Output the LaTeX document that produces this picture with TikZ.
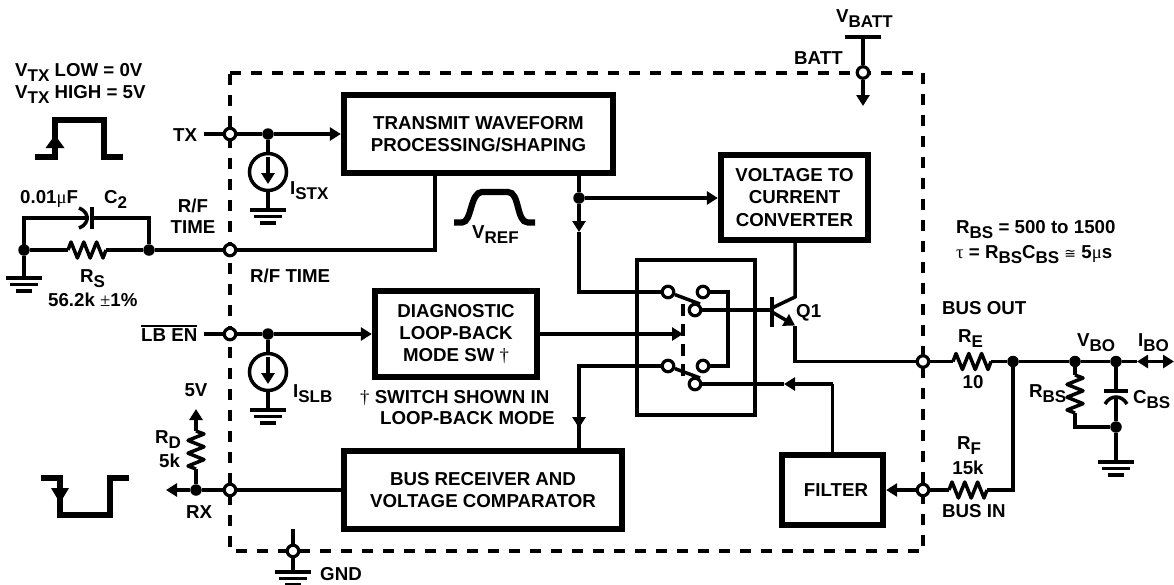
\documentclass[tikz,border=0pt]{standalone}
\usepackage{fontspec}
\setmainfont{Liberation Sans}
\newfontfamily\grk{Liberation Serif}
\newfontfamily\djv{DejaVu Sans}
\usetikzlibrary{arrows.meta}
\newcommand\sbs[1]{\raisebox{-5pt}{\fontsize{17}{17}\selectfont #1}}
\newcommand\thin[1]{{\grk\mdseries #1}}
\newcommand\ovl[1]{\leavevmode\vbox{\hrule height 1.4pt \kern 1.6pt\hbox{#1}}}
\tikzset{
  every node/.style={font=\fontsize{18.7}{22.3}\selectfont\bfseries,inner sep=0pt,text=black},
  sig/.style={line width=3.5pt,draw=black},
  arr/.style={sig,-{Triangle[length=11pt,width=13pt]}},
  boxn/.style={draw=black,line width=6.3pt,align=center,fill=white},
  term/.style={circle,draw=black,fill=white,line width=3.2pt,minimum size=11.5pt},
  dot/.style={circle,fill=black,minimum size=11.5pt},
  isrc/.style={circle,draw=black,line width=3.5pt,minimum size=37pt},
  lbl/.style={anchor=base west},
  lblc/.style={anchor=base},
  wave/.style={line width=6.3pt,draw=black,miter limit=10},
  gnd/.pic={\draw[sig] (-18,0) -- (18,0);\draw[sig] (-14,6.7) -- (14,6.7);\draw[sig] (-8,13) -- (8,13);},
  zig/.pic={\draw[sig,line join=round] (0,0) -- ++(3,-8) -- ++(6.4,16) -- ++(6.4,-16) -- ++(6.4,16) -- ++(6.4,-16) -- ++(6.4,16) -- ++(3,-8);}
}
\begin{document}
\begin{tikzpicture}[x=1pt,y=-1pt]
\useasboundingbox (0,0) rectangle (1174,584);
\fill[white] (0,0) rectangle (1174,584);

% dashed chip outline
\draw[line width=4pt,dash pattern=on 11pt off 10pt] (230,72.5) -- (923,72.5) -- (923,551) -- (230,551) -- cycle;

% switch frame
\node[draw=black,line width=3.7pt,minimum width=118pt,minimum height=155pt] (swbox) at (696,337.5) {};

% function blocks
\node[boxn,minimum width=269pt,minimum height=78pt] (txbox) at (478.5,134) {TRANSMIT WAVEFORM\\PROCESSING/SHAPING};
\node[boxn,minimum width=162pt,minimum height=86pt] (diag) at (456,334) {DIAGNOSTIC\\LOOP-BACK\\MODE SW \thin{†}};
\node[boxn,minimum width=278pt,minimum height=78pt] (busrx) at (483,490) {BUS RECEIVER AND\\VOLTAGE COMPARATOR};
\node[boxn,minimum width=101pt,minimum height=70pt] (filt) at (832.5,490) {\hspace*{7pt}FILTER};
\node[boxn,minimum width=147pt,minimum height=85pt] (vi) at (794.5,197.5) {VOLTAGE TO\\CURRENT\\CONVERTER};

% nodes
\node[term] (ttx) at (230,134) {};
\node[term] (trf) at (230,250) {};
\node[term] (tlb) at (230,334) {};
\node[term] (trx) at (230,490) {};
\node[term] (tgnd) at (293,551) {};
\node[term] (tbatt) at (863,72.5) {};
\node[term] (tout) at (923,361.5) {};
\node[term] (tin) at (923,490) {};
\node[dot] (dtx) at (268,134) {};
\node[dot] (dlb) at (268,334) {};
\node[dot] (dl) at (24,250) {};
\node[dot] (dr) at (149,250) {};
\node[dot] (drx) at (196,490) {};
\node[dot] (dsp) at (579,198) {};
\node[dot] (dre) at (1013,361.5) {};
\node[dot] (dvb) at (1075,361.5) {};
\node[dot] (dcb) at (1116,361.5) {};
\node[dot] (dcg) at (1116,427) {};
\node[isrc] (istx) at (268,172) {};
\node[isrc] (islb) at (268,372) {};

% switch contacts
\node[term] (s1a) at (668,292) {};
\node[term] (s1b) at (703,292) {};
\node[term] (s1c) at (695,310) {};
\node[term] (s2a) at (668,366) {};
\node[term] (s2b) at (703,366) {};
\node[term] (s2c) at (695,384) {};

% free ends and bends
\coordinate (txs) at (204,134);
\coordinate (lbs) at (204,334);
\coordinate (rxe) at (166,490);
\coordinate (g1) at (268,210);
\coordinate (g2) at (268,410);
\coordinate (g3) at (24,278);
\coordinate (g4) at (293,572);
\coordinate (g5) at (1116,462);
\coordinate (rfb) at (435,250);
\coordinate (a1) at (579,232);
\coordinate (b1) at (579,292);
\coordinate (a2) at (579,428);
\coordinate (b2) at (579,366);
\coordinate (sw1) at (728,292);
\coordinate (sw2) at (728,366);
\coordinate (arm1) at (700,304);
\coordinate (arm2) at (700,378);
\coordinate (lk1) at (683,304);
\coordinate (lk2) at (683,381);
\coordinate (dgt) at (683,334);
\coordinate (base) at (772,310);
\coordinate (bt) at (772,297);
\coordinate (bb) at (772,327);
\coordinate (col0) at (772,308);
\coordinate (col) at (795,297);
\coordinate (em0) at (772,312);
\coordinate (em) at (795,325.5);
\coordinate (em1) at (795,361.5);
\coordinate (fa) at (784,384);
\coordinate (fb) at (832.5,384);
\coordinate (rsa) at (68,250);
\coordinate (rsb) at (106,250);
\coordinate (rea) at (953,361.5);
\coordinate (reb) at (991,361.5);
\coordinate (rfa) at (949,490);
\coordinate (rfe) at (987,490);
\coordinate (rf2) at (1013,490);
\coordinate (rda) at (196,431);
\coordinate (rdb) at (196,469);
\coordinate (rd5) at (196,409);
\coordinate (rba) at (1075,375);
\coordinate (rbb) at (1075,413);
\coordinate (rb2) at (1075,427);
\coordinate (bita) at (1137,361.5);
\coordinate (bitb) at (1174,361.5);
\coordinate (vb) at (863,37);
\coordinate (vbl) at (845,37);
\coordinate (vbr) at (881,37);
\coordinate (vbd) at (863,106);
\coordinate (gt) at (293,529);
\coordinate (c2l) at (24,218);
\coordinate (c2r) at (149,218);
\coordinate (c2p) at (87,218);
\coordinate (c2q) at (92,218);
\coordinate (cbp) at (1116,391);
\coordinate (cbq) at (1116,397);

% transmit side
\draw[sig] (txs) -- (ttx); \draw[sig] (ttx) -- (dtx);
\draw[arr] (dtx) -- (txbox.west);
\draw[sig] (dtx) -- (istx);
\draw[sig] (istx) -- (g1);
\draw[arr] (268,157) -- (268,184);
\pic at (g1) {gnd};

\draw[sig] (dl) -- (rsa);
\pic at (rsa) {zig};
\draw[sig] (rsb) -- (dr);
\draw[sig] (dr) -- (trf);
\draw[sig] (trf) -- (rfb) -- (rfb |- txbox.south);
\draw[sig] (dl) -- (g3);
\pic at (g3) {gnd};
\draw[sig,line cap=rect] (dl) -- (c2l) -- (c2p);
\draw[sig] (dr) -- (c2r) -- (c2q);
\draw[sig] (92,207) -- (92,229);
\draw[sig] (79,208) .. controls (86,211) and (87,215) .. (87,218) .. controls (87,221) and (86,225) .. (79,228);

% loop-back input
\draw[sig] (lbs) -- (tlb); \draw[sig] (tlb) -- (dlb);
\draw[arr] (dlb) -- (diag.west);
\draw[sig] (dlb) -- (islb);
\draw[sig] (islb) -- (g2);
\draw[arr] (268,357) -- (268,384);
\pic at (g2) {gnd};
\draw[arr] (diag.east) -- (dgt);

% receive side
\draw[sig] (busrx.west) -- (trx);
\draw[sig] (trx) -- (drx);
\draw[arr] (drx) -- (rxe);
\draw[sig] (drx) -- (rdb);
\pic[rotate=-90] at (rda) {zig};
\draw[arr] (rda) -- (rd5);

% ground and battery pins
\draw[sig] (gt) -- (tgnd); \draw[sig] (tgnd) -- (g4);
\pic at (g4) {gnd};
\draw[sig] (vbl) -- (vbr);
\draw[sig] (vb) -- (tbatt);
\draw[arr] (tbatt) -- (vbd);

% transmit block to switch and converter
\draw[sig] (txbox.south -| dsp) -- (dsp);
\draw[arr] (dsp) -- (vi.west |- dsp);
\draw[arr] (dsp) -- (a1);
\draw[sig] (a1) -- (b1) -- (s1a);
\draw[sig] (s1b) -- (sw1) -- (sw2) -- (s2b);
\draw[sig] (s1a) -- (arm1);
\draw[sig] (s2a) -- (arm2);
\draw[line width=4pt,dash pattern=on 12pt off 8pt] (lk1) -- (lk2);
\draw[sig] (s2a) -- (b2) -- (a2);
\draw[arr] (b2) -- (a2);
\draw[sig] (a2) -- (a2 |- busrx.north);

% transistor Q1
\draw[sig] (s1c) -- (base);
\draw[sig] (bt) -- (bb);
\draw[sig] (vi.south -| col) -- (col) -- (col0);
\draw[arr] (em0) -- (em);
\draw[sig] (em) -- (em1) -- (tout);

% filter path
\draw[sig] (filt.north) -- (fb);
\draw[arr] (fb) -- (fa);
\draw[sig] (fa) -- (s2c);
\draw[arr] (tin) -- (filt.east);

% output network
\draw[sig] (tout) -- (rea);
\pic at (rea) {zig};
\draw[sig] (reb) -- (dre);
\draw[sig] (dre) -- (dvb);
\draw[sig] (dvb) -- (dcb);
\draw[sig] (dcb) -- (bita);
\draw[sig,{Triangle[length=11pt,width=13pt]}-{Triangle[length=11pt,width=13pt]}] (bita) -- (bitb);
\draw[sig] (tin) -- (rfa);
\pic at (rfa) {zig};
\draw[sig] (rfe) -- (rf2) -- (dre);
\draw[sig] (dvb) -- (rba);
\pic[rotate=-90] at (rba) {zig};
\draw[sig] (rbb) -- (rb2) -- (dcg);
\draw[sig] (dcb) -- (cbp);
\draw[sig] (1104,391) -- (1128,391);
\draw[sig] (1105,404) .. controls (1108,399) and (1112,397) .. (1116,397) .. controls (1120,397) and (1124,399) .. (1127,404);
\draw[sig] (cbq) -- (dcg);
\draw[sig] (dcg) -- (g5);
\pic at (g5) {gnd};

% waveforms
\draw[wave] (35,157) -- (55,157) -- (55,120) -- (104,120) -- (104,157) -- (123,157);
\fill (55,135) -- (64.5,148) -- (45.5,148) -- cycle;
\draw[wave] (41,478) -- (60,478) -- (60,515) -- (110,515) -- (110,478) -- (129,478);
\fill (60,503) -- (69,488) -- (51,488) -- cycle;
\draw[wave] (454,222.5) -- (462,222.5) .. controls (472,222.5) and (470,192) .. (482,192) -- (508,192) .. controls (520,192) and (516,222.5) .. (528,222.5) -- (535,222.5);

% labels
\node[lbl] (l1) at (15,76) {V\sbs{TX} LOW = 0V};
\node[lbl] (l2) at (15,98) {V\sbs{TX} HIGH = 5V};
\node[lbl] (l3) at (173,141) {TX};
\node[lbl] (l4) at (290,194) {I\sbs{STX}};
\node[lbl] (l5) at (20,203) {0.01\thin{μ}F};
\node[lbl] (l6) at (104,203) {C\sbs{2}};
\node[lblc] (l7) at (193,212) {R/F};
\node[lblc] (l8) at (193,233) {TIME};
\node[lbl] (l9) at (250,282) {R/F TIME};
\node[lbl] (l10) at (80,282) {R\sbs{S}};
\node[lbl] (l11) at (48,306) {56.2k \thin{±}1\%};
\node[lbl] (l12) at (141,341) {\ovl{LB EN}};
\node[lbl] (l13) at (293,397) {I\sbs{SLB}};
\node[lblc] (l14) at (196,396) {5V};
\node[lbl] (l15) at (155,443) {R\sbs{D}};
\node[lbl] (l16) at (159,467) {5k};
\node[lbl] (l17) at (186,518) {RX};
\node[lbl] (l18) at (320,580) {GND};
\node[lbl] (l19) at (836,22) {V\sbs{BATT}};
\node[lbl] (l20) at (794,64) {BATT};
\node[lbl] (l21) at (472,238) {V\sbs{REF}};
\node[lbl] (l22) at (360,403) {\thin{†} SWITCH SHOWN IN};
\node[lbl] (l23) at (380,424) {LOOP-BACK MODE};
\node[lbl] (l24) at (796,317) {Q1};
\node[lbl] (l25) at (956,233) {R\sbs{BS} = 500 to 1500};
\node[lbl] (l26) at (956,258) {\thin{τ} = R\sbs{BS}C\sbs{BS} {\djv\mdseries\fontsize{14}{14}\selectfont ≅} 5\thin{μ}s};
\node[lbl] (l27) at (942,314) {BUS OUT};
\node[lbl] (l28) at (958,342) {R\sbs{E}};
\node[lblc] (l29) at (973,388) {10};
\node[lbl] (l30) at (957,449) {R\sbs{F}};
\node[lblc] (l31) at (968,474) {15k};
\node[lbl] (l32) at (942,517) {BUS IN};
\node[lbl] (l33) at (1077,346) {V\sbs{BO}};
\node[lbl] (l34) at (1138,346) {I\sbs{BO}};
\node[lbl] (l35) at (1029,397) {R\sbs{BS}};
\node[lbl] (l36) at (1133,403) {C\sbs{BS}};
\end{tikzpicture}
\end{document}
